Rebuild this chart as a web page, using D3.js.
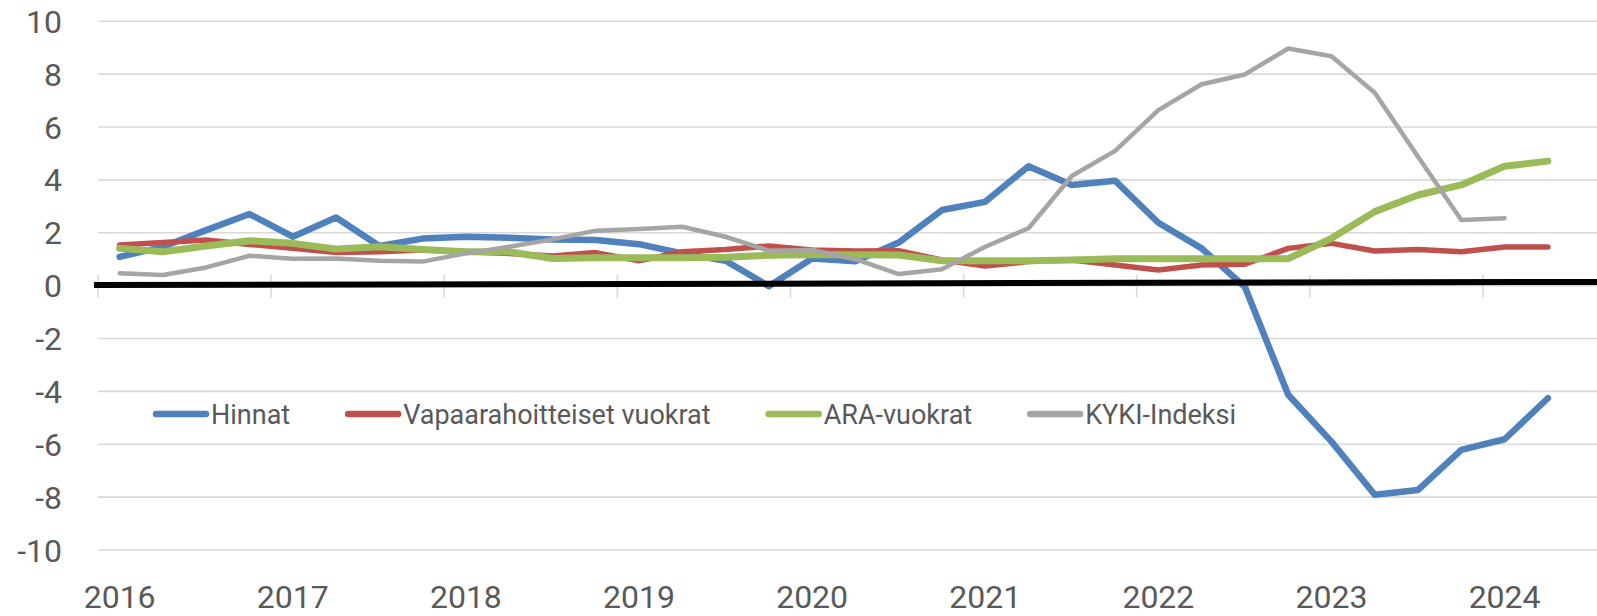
<!DOCTYPE html>
<html>
<head>
<meta charset="utf-8">
<title>Hinnat ja vuokrat</title>
<script src="https://d3js.org/d3.v7.min.js"></script>
<style>
body { margin: 0; background: white; }
svg { display: block; font-family: Roboto, "Open Sans", sans-serif; }
.tick-label { fill: #595959; font-size: 32px; }
.legend-label { fill: #595959; font-size: 27px; }
</style>
</head>
<body>
<script>
// quarterly data, 2016Q1 ->
var years = ["2016","2017","2018","2019","2020","2021","2022","2023","2024"];
var quartersPerYear = 4;
var categoryCount = 35;

var hinnat = [1.09, 1.47, 2.1, 2.71, 1.85, 2.58, 1.5, 1.78, 1.85, 1.81, 1.75, 1.73, 1.57, 1.22, 0.94, -0.02, 1.03,
  0.92, 1.63, 2.86, 3.17, 4.52, 3.81, 3.97, 2.38, 1.41, -0.05, -4.13, -5.9, -7.91, -7.73, -6.21, -5.81, -4.26];
var vapaa = [1.54, 1.63, 1.73, 1.56, 1.41, 1.25, 1.28, 1.35, 1.28, 1.22, 1.12, 1.25, 0.94, 1.28, 1.37, 1.5, 1.35,
  1.31, 1.32, 0.97, 0.74, 0.91, 0.97, 0.78, 0.59, 0.78, 0.81, 1.41, 1.6, 1.31, 1.37, 1.28, 1.46, 1.46];
var ara = [1.41, 1.28, 1.5, 1.7, 1.6, 1.39, 1.47, 1.37, 1.28, 1.28, 1.03, 1.06, 1.06, 1.06, 1.07, 1.15, 1.17,
  1.17, 1.16, 0.94, 0.94, 0.94, 0.97, 1.02, 1.02, 1.02, 1.02, 1.02, 1.79, 2.8, 3.43, 3.81, 4.52, 4.71];
var kyki = [0.47, 0.4, 0.69, 1.13, 1.02, 1.03, 0.94, 0.91, 1.22, 1.47, 1.75, 2.08, 2.14, 2.23, 1.85, 1.32, 1.35,
  1.0, 0.44, 0.62, 1.47, 2.17, 4.15, 5.1, 6.64, 7.62, 7.99, 8.97, 8.68, 7.3, 4.88, 2.48, 2.55];

var seriesNames = ["Hinnat", "Vapaarahoitteiset vuokrat", "ARA-vuokrat", "KYKI-Indeksi"];
var yTicks = [10, 8, 6, 4, 2, 0, -2, -4, -6, -8, -10];
// the black baseline drifts up a little towards the right
var zeroLine = [0, 0.12];

var width = 1597, height = 616;
var svg = d3.select("body").append("svg")
  .attr("width", width)
  .attr("height", height);

var x = d3.scaleBand()
  .domain(d3.range(categoryCount))
  .range([98, 98 + categoryCount * 43.28]);
var y = d3.scaleLinear()
  .domain([-10, 10])
  .range([550, 21.3]);

function cx(i) { return x(i) + x.bandwidth() / 2; }

// gridlines
svg.append("g").selectAll("line")
  .data(yTicks)
  .enter().append("line")
  .attr("x1", 98).attr("x2", width)
  .attr("y1", function(d) { return y(d); })
  .attr("y2", function(d) { return y(d); })
  .attr("stroke", "#d9d9d9")
  .attr("stroke-width", 1.6);

// y labels
svg.append("g").selectAll("text")
  .data(yTicks)
  .enter().append("text")
  .attr("class", "tick-label")
  .attr("x", 62)
  .attr("y", function(d) { return y(d); })
  .attr("dy", "0.36em")
  .attr("text-anchor", "end")
  .text(function(d) { return d; });

// x tick marks at year boundaries
var yearStarts = years.map(function(d, k) { return k * quartersPerYear; });
svg.append("g").selectAll("line")
  .data(yearStarts)
  .enter().append("line")
  .attr("x1", function(d) { return x(d); })
  .attr("x2", function(d) { return x(d); })
  .attr("y1", y(0) - 11).attr("y2", y(0) + 12)
  .attr("stroke", "#d9d9d9")
  .attr("stroke-width", 1.6);

svg.append("g").selectAll("text")
  .data(years)
  .enter().append("text")
  .attr("class", "tick-label")
  .attr("x", function(d, k) { return cx(k * quartersPerYear); })
  .attr("y", 608)
  .attr("text-anchor", "middle")
  .text(function(d) { return d; });

// series
var series = [
  { name: seriesNames[0], values: hinnat, color: "#4f81bd", w: 6.5 },
  { name: seriesNames[1], values: vapaa, color: "#c0504d", w: 5.5 },
  { name: seriesNames[2], values: ara, color: "#9bbb59", w: 7 },
  { name: seriesNames[3], values: kyki, color: "#a5a5a5", w: 4.5 }
];

var line = d3.line()
  .x(function(d, i) { return cx(i); })
  .y(function(d) { return y(d); });

svg.append("g").selectAll("path")
  .data(series)
  .enter().append("path")
  .attr("d", function(s) { return line(s.values); })
  .attr("fill", "none")
  .attr("stroke", function(s) { return s.color; })
  .attr("stroke-width", function(s) { return s.w; })
  .attr("stroke-linejoin", "round")
  .attr("stroke-linecap", "round");

// zero line
svg.append("line")
  .attr("x1", 94).attr("x2", width)
  .attr("y1", y(zeroLine[0]) - 0.6)
  .attr("y2", y(zeroLine[1]) - 0.6)
  .attr("stroke", "#000")
  .attr("stroke-width", 6);

// legend
var legend = svg.append("g");
var lx = 153, ly = 414;
series.forEach(function(s) {
  legend.append("line")
    .attr("x1", lx + 3).attr("x2", lx + 53)
    .attr("y1", ly).attr("y2", ly)
    .attr("stroke", s.color)
    .attr("stroke-width", 6.5)
    .attr("stroke-linecap", "round");
  var t = legend.append("text")
    .attr("class", "legend-label")
    .attr("x", lx + 58)
    .attr("y", ly)
    .attr("dy", "0.36em")
    .text(s.name);
  lx = lx + 58 + t.node().getComputedTextLength() + 55;
});
</script>
</body>
</html>
